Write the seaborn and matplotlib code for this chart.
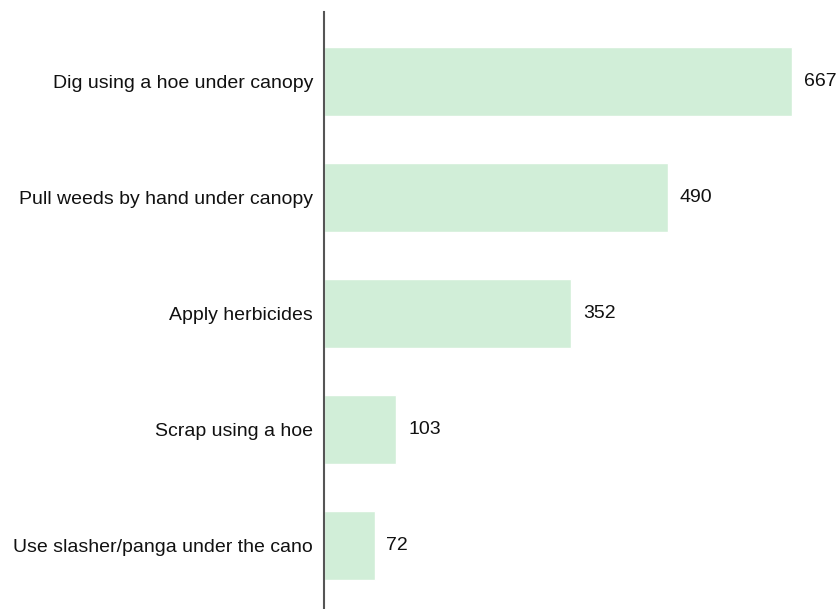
import matplotlib
matplotlib.use("Agg")
import matplotlib.pyplot as plt
import seaborn as sns
import pandas as pd

categories = ["Dig using a hoe under canopy", "Pull weeds by hand under canopy",
              "Apply herbicides", "Scrap using a hoe", "Use slasher/panga under the cano"]
values = [667, 490, 352, 103, 72]

df = pd.DataFrame({"category": categories, "value": values})

sns.set_theme(style="white")
plt.rcParams['font.family'] = ['Liberation Sans', 'DejaVu Sans']

fig = plt.figure(figsize=(8.39, 6.09), dpi=100)
ax = fig.add_axes([324/839, 0, 1 - 324/839, 1 - 12/609])

sns.barplot(data=df, x="value", y="category", orient="h", color="#d1eed8",
            saturation=1, width=0.595, ax=ax)

ax.set_xlim(0, (839 - 324) / (468 / 667))
ax.set_ylim(4 + 63.5/116, -69.5/116)
ax.set_xlabel("")
ax.set_ylabel("")
ax.set_xticks([])
for s in ["top", "right", "bottom"]:
    ax.spines[s].set_visible(False)
ax.spines["left"].set_color("#555555")
ax.spines["left"].set_linewidth(1.5)
ax.tick_params(axis="y", length=0, pad=8, labelsize=14.0, labelcolor="#111111")

for container in ax.containers:
    ax.bar_label(container, labels=[str(v) for v in values], padding=8.6,
                 fontsize=14.0, color="#111111")

fig.savefig("out.png", dpi=100)
